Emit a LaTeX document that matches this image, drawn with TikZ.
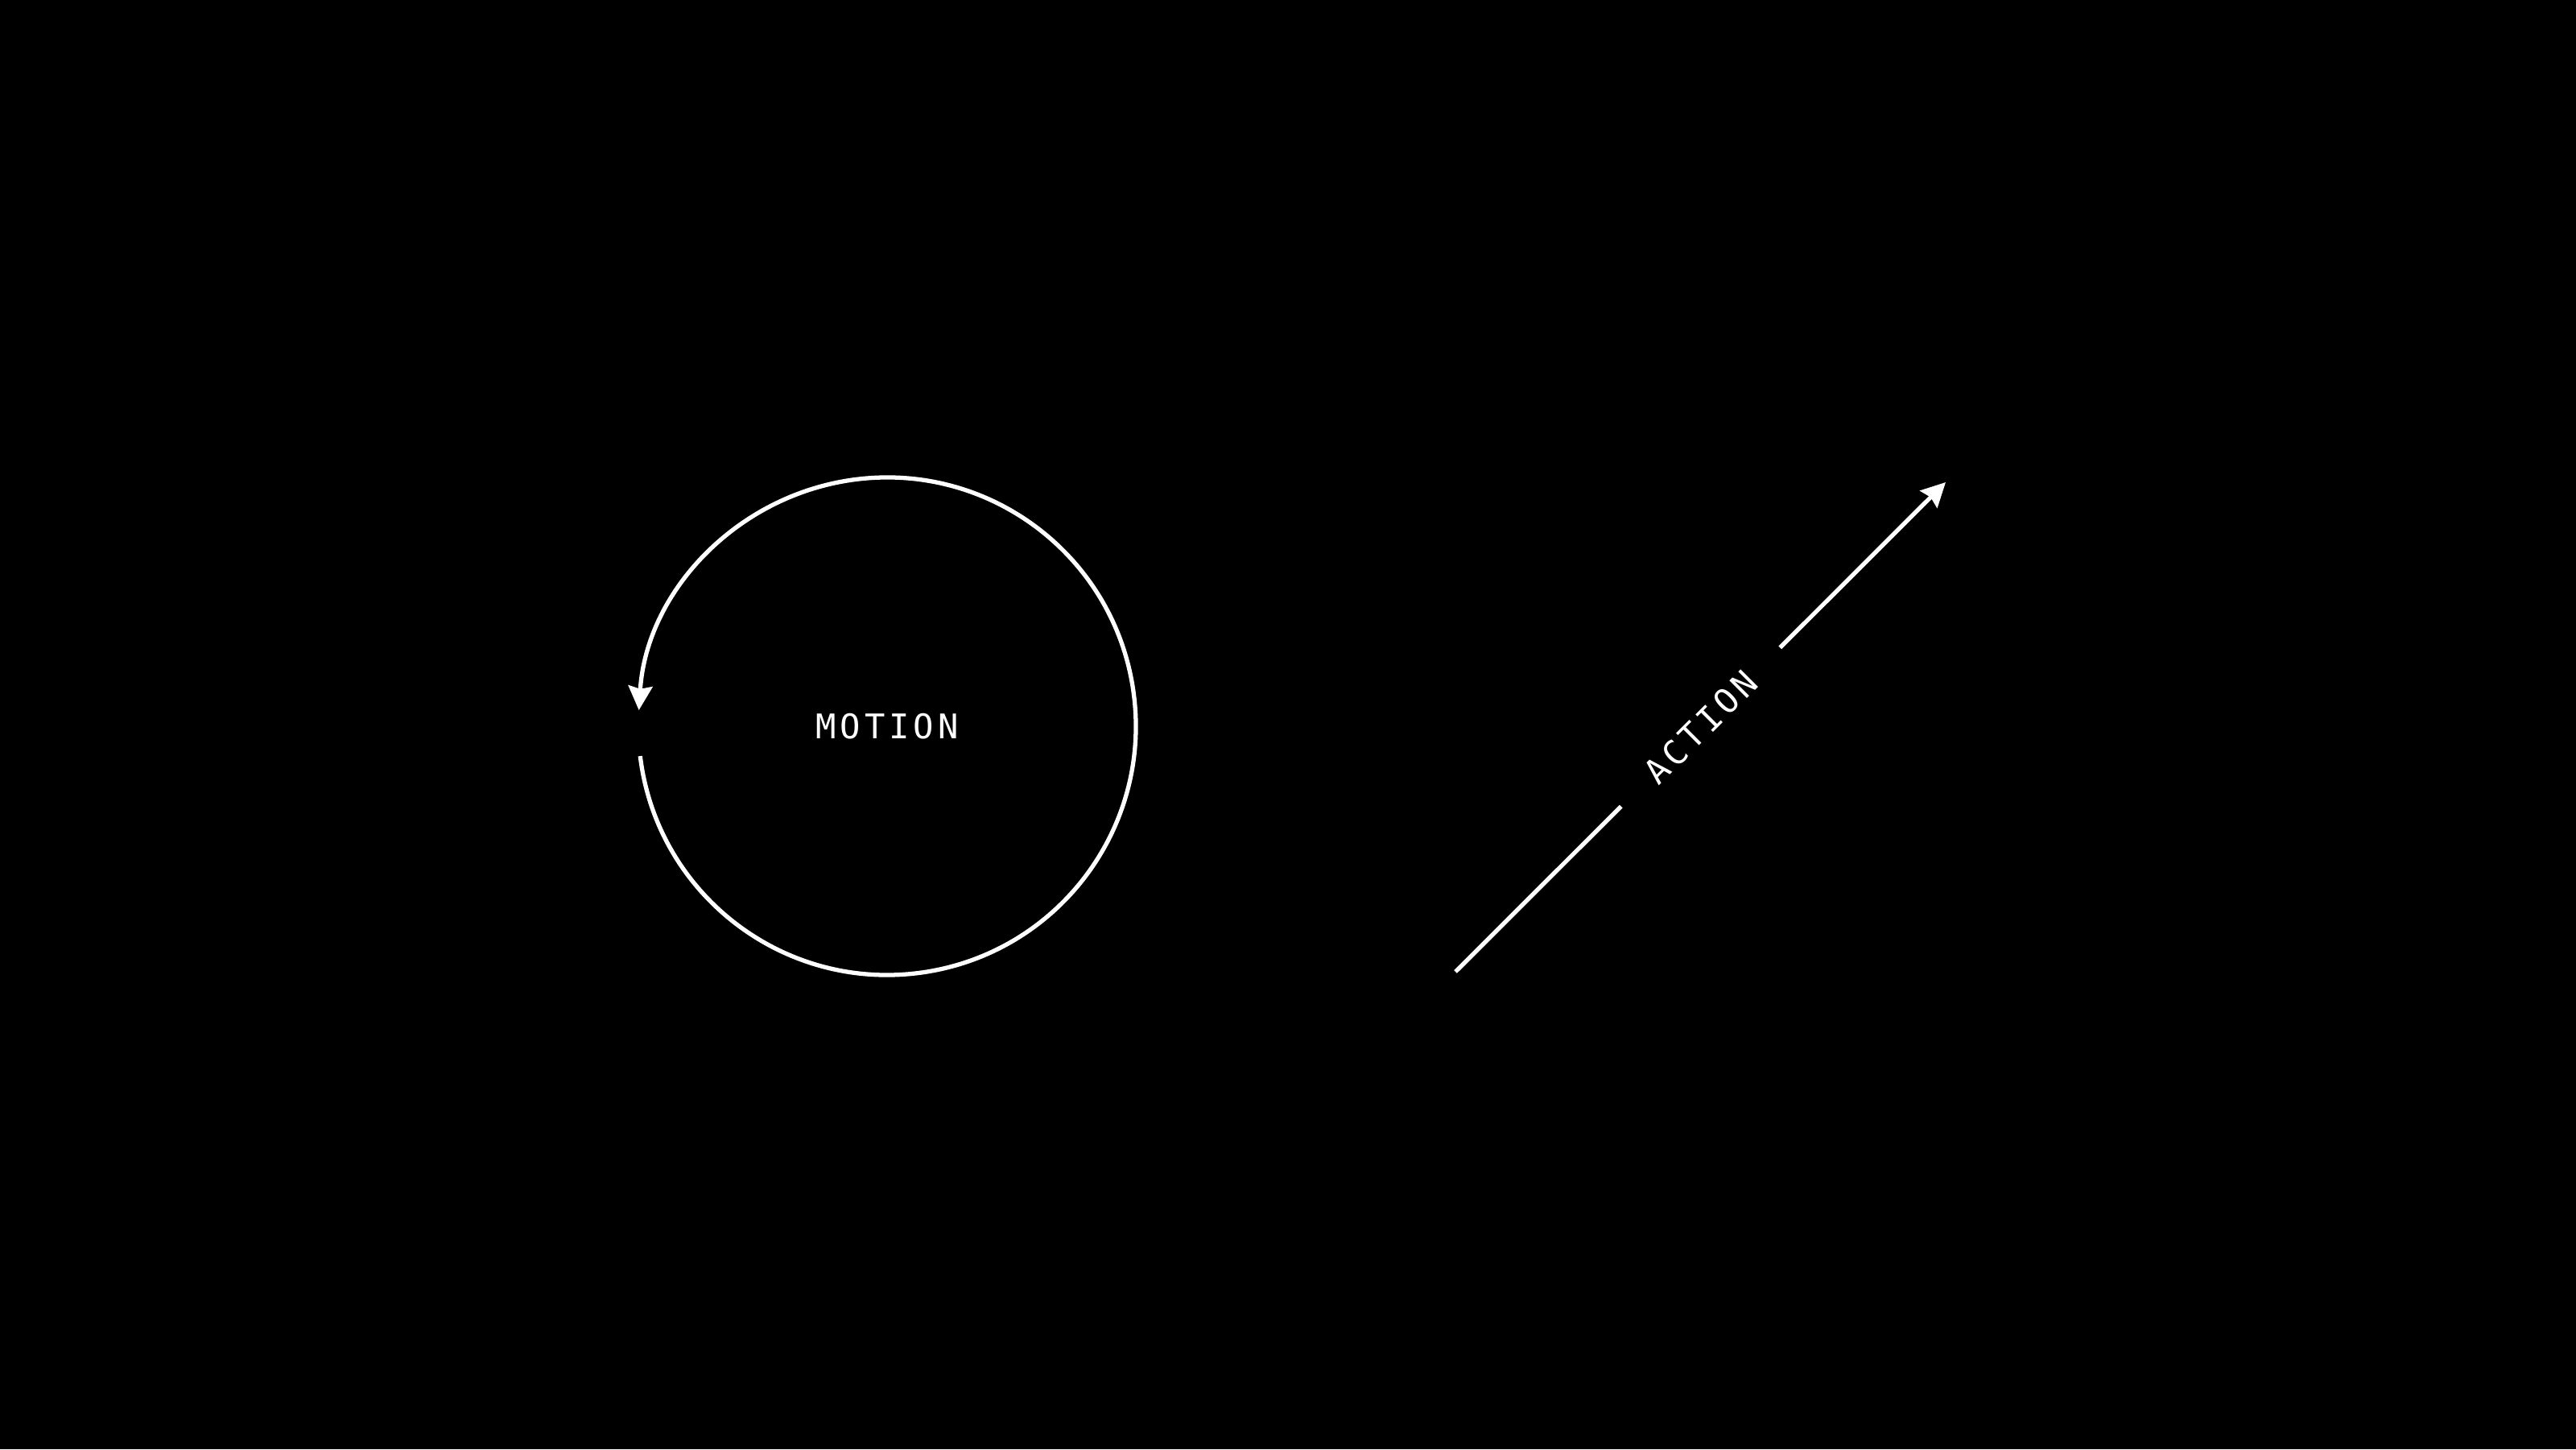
\documentclass[tikz,border=0pt]{standalone}
\usepackage{fontspec}
\newfontfamily\wordfont[LetterSpace=12]{DejaVu Sans Mono}
\usetikzlibrary{arrows.meta,calc}

\begin{document}
\begin{tikzpicture}[x=1cm,y=1cm,
  whiteline/.style={white, line width=1.5pt},
  arrowend/.style={-{Stealth[length=8.5pt, width=8.5pt, inset=1pt]}},
  word/.style={text=white, font=\wordfont\fontsize{12pt}{14pt}\selectfont, inner sep=0pt}]
\fill[black] (0,0) rectangle (32,18);
\useasboundingbox (0,0) rectangle (32,18);
\node[word] (motion) at (11.02,8.98) {MOTION};
\draw[whiteline, arrowend] (motion.center) ++(-173.1:3.09) arc[start angle=-173.1, end angle=176.3, radius=3.09];
\coordinate (tail) at (18.08,5.93);
\coordinate (head) at (24.17,12.01);
\node[word, rotate=45, inner xsep=0.5cm] (action) at ($(tail)!0.5!(head)$) {ACTION};
\draw[whiteline] (tail) -- (action);
\draw[whiteline, arrowend] (action) -- (head);
\end{tikzpicture}
\end{document}
